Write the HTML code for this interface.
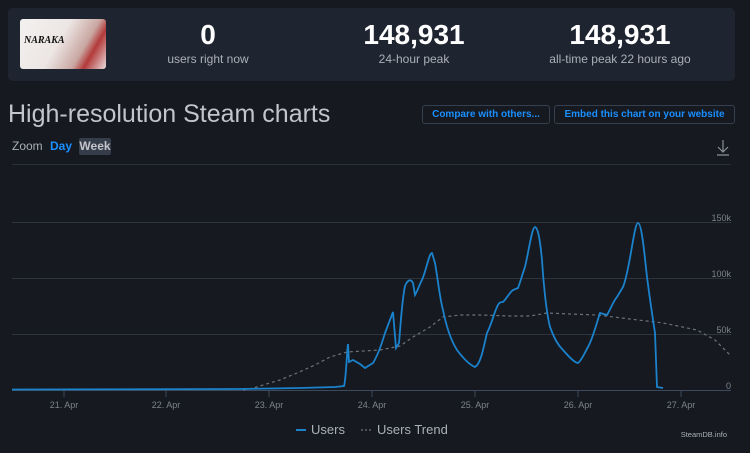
<!DOCTYPE html><html><head><style>
body{margin:0;width:750px;height:453px;background:#161920;font-family:"Liberation Sans",sans-serif;overflow:hidden;position:relative}
.card{position:absolute;left:8px;top:8px;width:727px;height:73px;background:#1f2530;border-radius:5px}
.img{position:absolute;left:20px;top:19px;width:86px;height:50px;border-radius:3px;background:linear-gradient(120deg,#f3f1f0 0%,#ece6e4 45%,#c9a7a2 70%,#b33a3a 80%,#e9dede 100%)}
.img b{position:absolute;left:4px;top:16px;font:bold 10px "Liberation Serif",serif;color:#111;font-style:italic}
.st{position:absolute;text-align:center;width:200px;color:#fff}
.st .n{font-weight:bold;font-size:28px;line-height:30px}
.st .l{font-size:12px;color:#aab0b8;margin-top:2px}
.t{position:absolute;left:8px;top:100px;font-size:25px;color:#c2c5c9}
.btn{position:absolute;top:105px;height:19px;border:1px solid #34404f;border-radius:3px;color:#1a8fff;font-size:10px;font-weight:bold;line-height:17px;text-align:center;box-sizing:border-box}
</style></head><body>
<div class="card"></div>
<div class="img"><b>NARAKA</b></div>
<div class="st" style="left:108px;top:20px"><div class="n">0</div><div class="l">users right now</div></div>
<div class="st" style="left:314px;top:20px"><div class="n">148,931</div><div class="l">24-hour peak</div></div>
<div class="st" style="left:520px;top:20px"><div class="n">148,931</div><div class="l">all-time peak 22 hours ago</div></div>
<div class="t">High-resolution Steam charts</div>
<div class="btn" style="left:422px;width:128px">Compare with others...</div>
<div class="btn" style="left:554px;width:181px">Embed this chart on your website</div>
<div style="position:absolute;left:12px;top:139px;font-size:12px;color:#aab0b8">Zoom</div>
<div style="position:absolute;left:50px;top:139px;font-size:12px;color:#1a8fff;font-weight:bold">Day</div>
<div style="position:absolute;left:79px;top:138px;width:32px;height:17px;background:#353d4b;border-radius:2px;font-size:12px;color:#c2c5c9;font-weight:bold;text-align:center;line-height:17px">Week</div>
<svg width="750" height="453" style="position:absolute;left:0;top:0">
<g stroke="#8a9099" stroke-width="1.2" fill="none"><path d="M723 140v12M718 147l5 5 5-5M717 155h12"/></g>
<line x1="12" y1="164.5" x2="731" y2="164.5" stroke="#2a303a"/>
<g stroke="#2e343d" stroke-width="1"><line x1="12" y1="222.5" x2="731" y2="222.5"/><line x1="12" y1="278.5" x2="731" y2="278.5"/><line x1="12" y1="334.5" x2="731" y2="334.5"/></g>
<line x1="12" y1="390.5" x2="731" y2="390.5" stroke="#3b4a5c"/>
<g stroke="#3b4a5c"><line x1="64" y1="391" x2="64" y2="397"/><line x1="166" y1="391" x2="166" y2="397"/><line x1="269" y1="391" x2="269" y2="397"/><line x1="372" y1="391" x2="372" y2="397"/><line x1="475" y1="391" x2="475" y2="397"/><line x1="578" y1="391" x2="578" y2="397"/><line x1="681" y1="391" x2="681" y2="397"/></g>
<g fill="#7d838b" font-size="9" text-anchor="middle" font-family="Liberation Sans"><text x="64" y="408">21. Apr</text><text x="166" y="408">22. Apr</text><text x="269" y="408">23. Apr</text><text x="372" y="408">24. Apr</text><text x="475" y="408">25. Apr</text><text x="578" y="408">26. Apr</text><text x="681" y="408">27. Apr</text>
<g text-anchor="end"><text x="731" y="221">150k</text><text x="731" y="277">100k</text><text x="731" y="333">50k</text><text x="731" y="389">0</text></g></g>
<path d="M243 390 C255 388 260 386 263 385 L280 380 297 373 315 365 330 357 347 352 380 350 400 346 413 337 430 327 443 317 460 315 480 315 510 316 530 316 547 313 570 314 597 315 630 319 663 323 697 330 715 340 730 355" fill="none" stroke="#6d7278" stroke-width="1.2" stroke-dasharray="3,3"/>
<path d="M12 389.5 L240 389 300 388 335 387 344 386 C346 380 347 350 348 344 L349 362 353 360 360 364 365 368 373 363 C378 355 382 343 385 333 L393 312 396 348 399 343 C401 320 402 300 405 286 C408 279 411 279 413 283 L415 295 C418 290 420 283 422 280 C427 268 429 253 432 253 L435 263 C438 280 440 300 443 310 C447 330 452 342 457 350 C463 358 470 365 475 367 C481 364 484 345 487 333 C492 323 494 313 497 307 C499 302 501 302 503 302 C507 298 510 292 513 290 L518 288 C521 280 523 272 525 267 C529 250 532 227 535 227 C539 228 541 250 542 260 C544 290 547 315 550 327 C555 340 558 345 563 350 C570 358 575 363 578 363 C582 360 585 352 588 347 C593 338 596 325 600 313 L607 315 C611 308 614 300 617 297 L623 287 C630 270 634 223 638 223 C642 223 645 260 647 277 C650 300 653 320 655 333 L657 387 663 388" fill="none" stroke="#1b82cc" stroke-width="1.8"/>
<line x1="296" y1="430" x2="306" y2="430" stroke="#1b82cc" stroke-width="2"/>
<line x1="361" y1="430" x2="373" y2="430" stroke="#6d7278" stroke-width="1.2" stroke-dasharray="2,2"/>
<g fill="#aab0b8" font-size="13" font-family="Liberation Sans"><text x="311" y="434">Users</text><text x="377" y="434">Users Trend</text></g>
<text x="727" y="437" fill="#aab0b8" font-size="7.5" text-anchor="end" font-family="Liberation Sans">SteamDB.info</text>
</svg>
</body></html>
